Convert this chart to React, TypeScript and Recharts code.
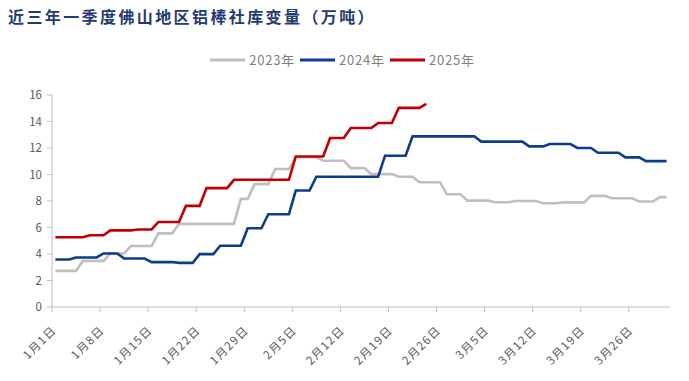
import React from 'react';
import { LineChart, Line, XAxis, YAxis, Legend } from 'recharts';

const MONTH_LENGTHS = [31, 28, 31];
const categories: string[] = [];
MONTH_LENGTHS.forEach((n, m) => {
  for (let d = 1; d <= n; d++) categories.push(`${m + 1}月${d}日`);
});

const Y_TICKS = [0, 2, 4, 6, 8, 10, 12, 14, 16];
const SERIES_NAMES = ['2023年', '2024年', '2025年'];
const COLORS = ['#BFBFBF', '#0A3D8F', '#C00000'];

const s2023 = [
  2.73, 2.73, 2.73, 2.73,
  3.48, 3.48, 3.48, 3.48,
  4.04, 4.04, 4.04,
  4.6, 4.6, 4.6, 4.6,
  5.56, 5.56, 5.56,
  6.27, 6.27, 6.27, 6.27, 6.27, 6.27, 6.27, 6.27, 6.27,
  8.16, 8.16,
  9.27, 9.27, 9.27,
  10.41, 10.41, 10.41,
  11.3, 11.3, 11.3, 11.3,
  11.04, 11.04, 11.04, 11.04,
  10.48, 10.48, 10.48,
  10.03, 10.03, 10.03, 10.03,
  9.83, 9.83, 9.83,
  9.42, 9.42, 9.42, 9.42,
  8.51, 8.51, 8.51,
  8.03, 8.03, 8.03, 8.03,
  7.91, 7.91, 7.91,
  8.0, 8.0, 8.0, 8.0,
  7.83, 7.83, 7.83,
  7.9, 7.9, 7.9, 7.9,
  8.39, 8.39, 8.39,
  8.21, 8.21, 8.21, 8.21,
  7.96, 7.96, 7.96,
  8.29, 8.29,
];

const s2024 = [
  3.59, 3.59, 3.59,
  3.74, 3.74, 3.74, 3.74,
  4.04, 4.04, 4.04,
  3.66, 3.66, 3.66, 3.66,
  3.39, 3.39, 3.39, 3.39,
  3.33, 3.33, 3.33,
  3.99, 3.99, 3.99,
  4.62, 4.62, 4.62, 4.62,
  5.94, 5.94, 5.94,
  7.0, 7.0, 7.0, 7.0,
  8.79, 8.79, 8.79,
  9.83, 9.83, 9.83, 9.83, 9.83, 9.83, 9.83, 9.83, 9.83, 9.83,
  11.42, 11.42, 11.42, 11.42,
  12.88, 12.88, 12.88, 12.88, 12.88, 12.88, 12.88, 12.88, 12.88, 12.88,
  12.48, 12.48, 12.48, 12.48, 12.48, 12.48, 12.48,
  12.12, 12.12, 12.12,
  12.3, 12.3, 12.3, 12.3,
  12.0, 12.0, 12.0,
  11.64, 11.64, 11.64, 11.64,
  11.29, 11.29, 11.29,
  11.01, 11.01, 11.01, 11.01,
];

const s2025 = [
  5.26, 5.26, 5.26, 5.26, 5.26,
  5.41, 5.41, 5.41,
  5.78, 5.78, 5.78, 5.78,
  5.85, 5.85, 5.85,
  6.42, 6.42, 6.42, 6.42,
  7.63, 7.63, 7.63,
  8.97, 8.97, 8.97, 8.97,
  9.6, 9.6, 9.6, 9.6, 9.6, 9.6, 9.6, 9.6, 9.6,
  11.36, 11.36, 11.36, 11.36, 11.36,
  12.76, 12.76, 12.76,
  13.51, 13.51, 13.51, 13.51,
  13.89, 13.89, 13.89,
  15.03, 15.03, 15.03, 15.03,
  15.33,
];

const data = categories.map((c, i) => ({
  date: c,
  y2023: s2023[i] ?? null,
  y2024: s2024[i] ?? null,
  y2025: s2025[i] ?? null,
}));

const W = 689;
const H = 381;
const MARGIN = { top: 95, right: 19, bottom: 0, left: 12 };
const Y_W = 40;
const PLOT_W = W - MARGIN.left - MARGIN.right - Y_W;
const HALF = PLOT_W / categories.length / 2;
const FONT = '"Noto Sans CJK SC", "Noto Sans", sans-serif';
const AXIS_COLOR = '#BFBFBF';

const XTick = (props: any) => {
  const { x, y, payload } = props;
  return (
    <g>
      <line x1={x - HALF} x2={x - HALF} y1={y} y2={y + 5} stroke={AXIS_COLOR} strokeWidth={1} />
      <text
        transform={`translate(${x + 1.5},${y + 24}) rotate(-45)`}
        textAnchor="end"
        fontSize={11.5}
        letterSpacing={1.3}
        fill="#595959"
        fontFamily={FONT}
      >
        {payload.value}
      </text>
    </g>
  );
};

const LegendContent = () => (
  <div style={{ display: 'flex', justifyContent: 'center', alignItems: 'center', fontFamily: FONT, paddingRight: 4 }}>
    {SERIES_NAMES.map((n, i) => (
      <div key={n} style={{ display: 'flex', alignItems: 'center', marginRight: i < 2 ? 5 : 0 }}>
        <svg width={35} height={4} style={{ marginRight: 4 }}>
          <line x1={0} x2={35} y1={2} y2={2} stroke={COLORS[i]} strokeWidth={3} />
        </svg>
        <span style={{ fontSize: 13, letterSpacing: 0.8, color: '#7F7F7F', lineHeight: '16px' }}>{n}</span>
      </div>
    ))}
  </div>
);

export default function App() {
  return (
    <div style={{ position: 'absolute', left: 0, top: 0, width: W, height: H, background: '#fff' }}>
      <div
        style={{
          position: 'absolute',
          left: 8,
          top: 4,
          fontFamily: FONT,
          fontWeight: 700,
          fontSize: 16,
          letterSpacing: 2.4,
          color: '#1F3B73',
          zIndex: 2,
          whiteSpace: 'nowrap',
        }}
      >
        近三年一季度佛山地区铝棒社库变量（万吨）
      </div>
      <LineChart width={W} height={H} data={data} margin={MARGIN}>
        <XAxis
          dataKey="date"
          interval={6}
          height={74}
          padding={{ left: HALF, right: HALF }}
          tickLine={false}
          tickSize={0}
          tickMargin={0}
          stroke={AXIS_COLOR}
          tick={<XTick />}
        />
        <YAxis
          width={Y_W}
          domain={[0, 16]}
          ticks={Y_TICKS}
          interval={0}
          tickSize={5}
          tickMargin={5}
          stroke={AXIS_COLOR}
          tick={{ fontSize: 11.5, fill: '#595959', fontFamily: FONT }}
        />
        <Legend
          layout="horizontal"
          verticalAlign="middle"
          align="center"
          wrapperStyle={{ top: 52, left: 0, width: W }}
          content={<LegendContent />}
        />
        <Line dataKey="y2023" name="2023年" stroke={COLORS[0]} strokeWidth={2.6} dot={false} isAnimationActive={false} />
        <Line dataKey="y2024" name="2024年" stroke={COLORS[1]} strokeWidth={2.6} dot={false} isAnimationActive={false} />
        <Line dataKey="y2025" name="2025年" stroke={COLORS[2]} strokeWidth={2.6} dot={false} isAnimationActive={false} />
      </LineChart>
    </div>
  );
}
